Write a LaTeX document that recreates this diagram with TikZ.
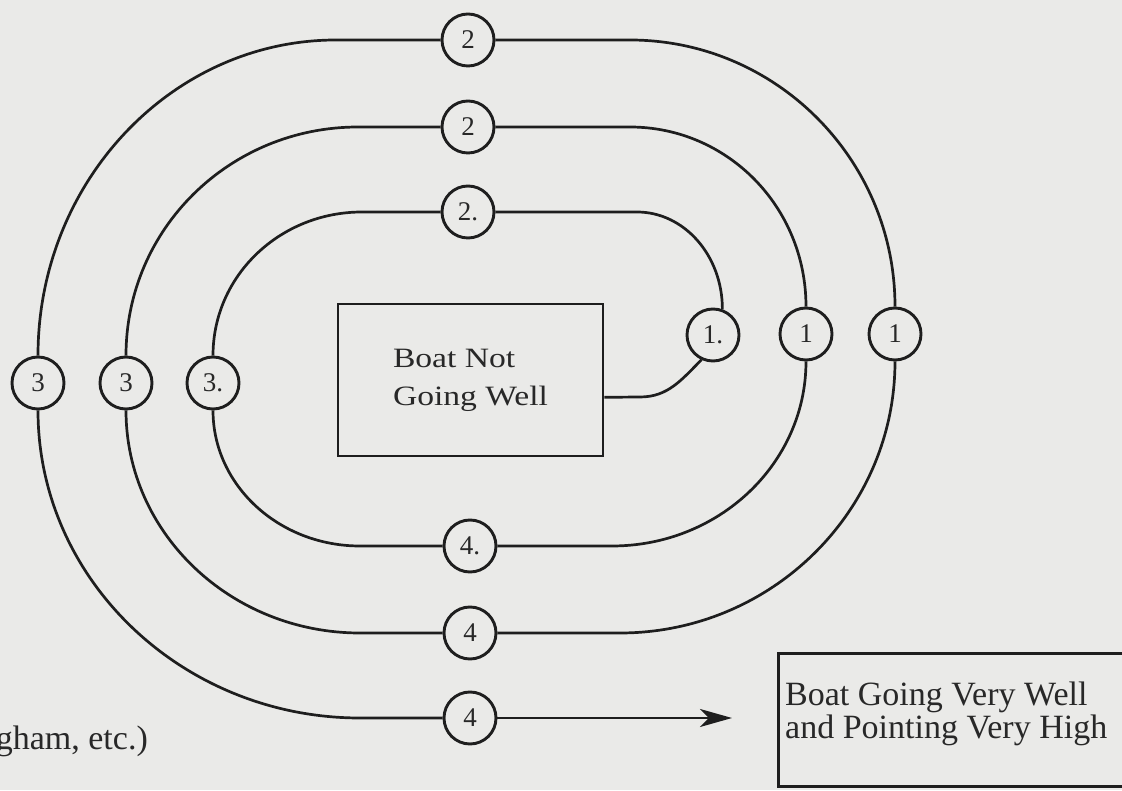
\documentclass[tikz,border=0pt]{standalone}
\usepackage{fontspec}
\setmainfont{Liberation Serif}
\newfontfamily\boxonefont[FakeStretch=1.2]{Liberation Serif}
\usetikzlibrary{arrows.meta,calc}
\definecolor{bg}{RGB}{234,234,232}
\definecolor{ink}{RGB}{30,30,30}
\definecolor{txt}{RGB}{40,40,40}
\begin{document}
\begin{tikzpicture}[x=1pt,y=1pt,
  ln/.style={draw=ink,line width=2.7pt},
  num/.style={circle,draw=ink,line width=2.9pt,fill=bg,minimum size=52pt,inner sep=0pt,
    text=txt,font=\fontsize{27}{27}\selectfont},
  boxnode/.style={draw=ink,line width=2.6pt,fill=bg,inner sep=0pt}
]
\useasboundingbox (0,0) rectangle (1122,790);
\fill[bg] (0,0) rectangle (1122,790);
\clip (0,0) rectangle (1122,790);

% boxes
\node[boxnode,minimum width=265pt,minimum height=152pt,align=left,text=txt,
  font=\boxonefont\fontsize{28}{38}\selectfont] (b1) at (470.5,410) {Boat Not\\Going Well};
\node[boxnode,minimum width=360pt,minimum height=133pt,anchor=north west] (b2) at (777,138) {};
\node[anchor=west,inner sep=0pt,align=left,text=txt,font=\fontsize{34}{33}\selectfont]
  (t2) at (785,76.5) {Boat Going Very Well\\and Pointing Very High};
\node[anchor=base east,inner sep=0pt,text=txt,font=\fontsize{34}{34}\selectfont]
  (t3) at (148,40) {gham, etc.)};

% circles
\node[num] (c1i) at (713,455) {1.};
\node[num] (c1m) at (806,456) {1};
\node[num] (c1o) at (895,456) {1};
\node[num] (c2i) at (468,578) {2.};
\node[num] (c2m) at (468,663) {2};
\node[num] (c2o) at (468,750) {2};
\node[num] (c3i) at (213,407) {3.};
\node[num] (c3m) at (126,407) {3};
\node[num] (c3o) at (38,407) {3};
\node[num] (c4i) at (470,244) {4.};
\node[num] (c4m) at (470,157) {4};
\node[num] (c4o) at (470,72) {4};

% straight-segment ends
\coordinate (lk) at ($(b1.south east)!0.388!(b1.north east)$);
\coordinate (k1) at (640,393);
\coordinate (tir) at (637,578);
\coordinate (til) at (362,578);
\coordinate (bil) at (360,244);
\coordinate (bir) at (612,244);
\coordinate (tmr) at (630,663);
\coordinate (tml) at (358,663);
\coordinate (bml) at (360,157);
\coordinate (bmr) at (620,157);
\coordinate (tor) at (630,750);
\coordinate (tol) at (336,750);
\coordinate (bol) at (360,72);
\coordinate (aend) at (732,72);

% spiral
\draw[ln] (lk) -- (k1) to[out=0,in=225] (c1i.245);
\draw[ln] (c1i.70) .. controls +(0,54) and +(47,0) .. (tir) -- (c2i.east);
\draw[ln] (c2i.west) -- (til) .. controls +(-82,0) and +(0,80) .. (c3i.north);
\draw[ln] (c3i.south) .. controls +(0,-75) and +(-81,0) .. (bil) -- (c4i.west);
\draw[ln] (c4i.east) -- (bir) .. controls +(107,0) and +(0,-102) .. (c1m.south);
\draw[ln] (c1m.north) .. controls +(0,100) and +(97,0) .. (tmr) -- (c2m.east);
\draw[ln] (c2m.west) -- (tml) .. controls +(-128,0) and +(0,127) .. (c3m.north);
\draw[ln] (c3m.south) .. controls +(0,-123) and +(-129,0) .. (bml) -- (c4m.west);
\draw[ln] (c4m.east) -- (bmr) .. controls +(151,0) and +(0,-150) .. (c1o.south);
\draw[ln] (c1o.north) .. controls +(0,147) and +(146,0) .. (tor) -- (c2o.east);
\draw[ln] (c2o.west) -- (tol) .. controls +(-164,0) and +(0,174) .. (c3o.north);
\draw[ln] (c3o.south) .. controls +(0,-170) and +(-177,0) .. (bol) -- (c4o.west);
\draw[ln,-{Stealth[length=32pt,width=18pt,inset=9pt]}] (c4o.east) -- (aend);
\end{tikzpicture}
\end{document}
